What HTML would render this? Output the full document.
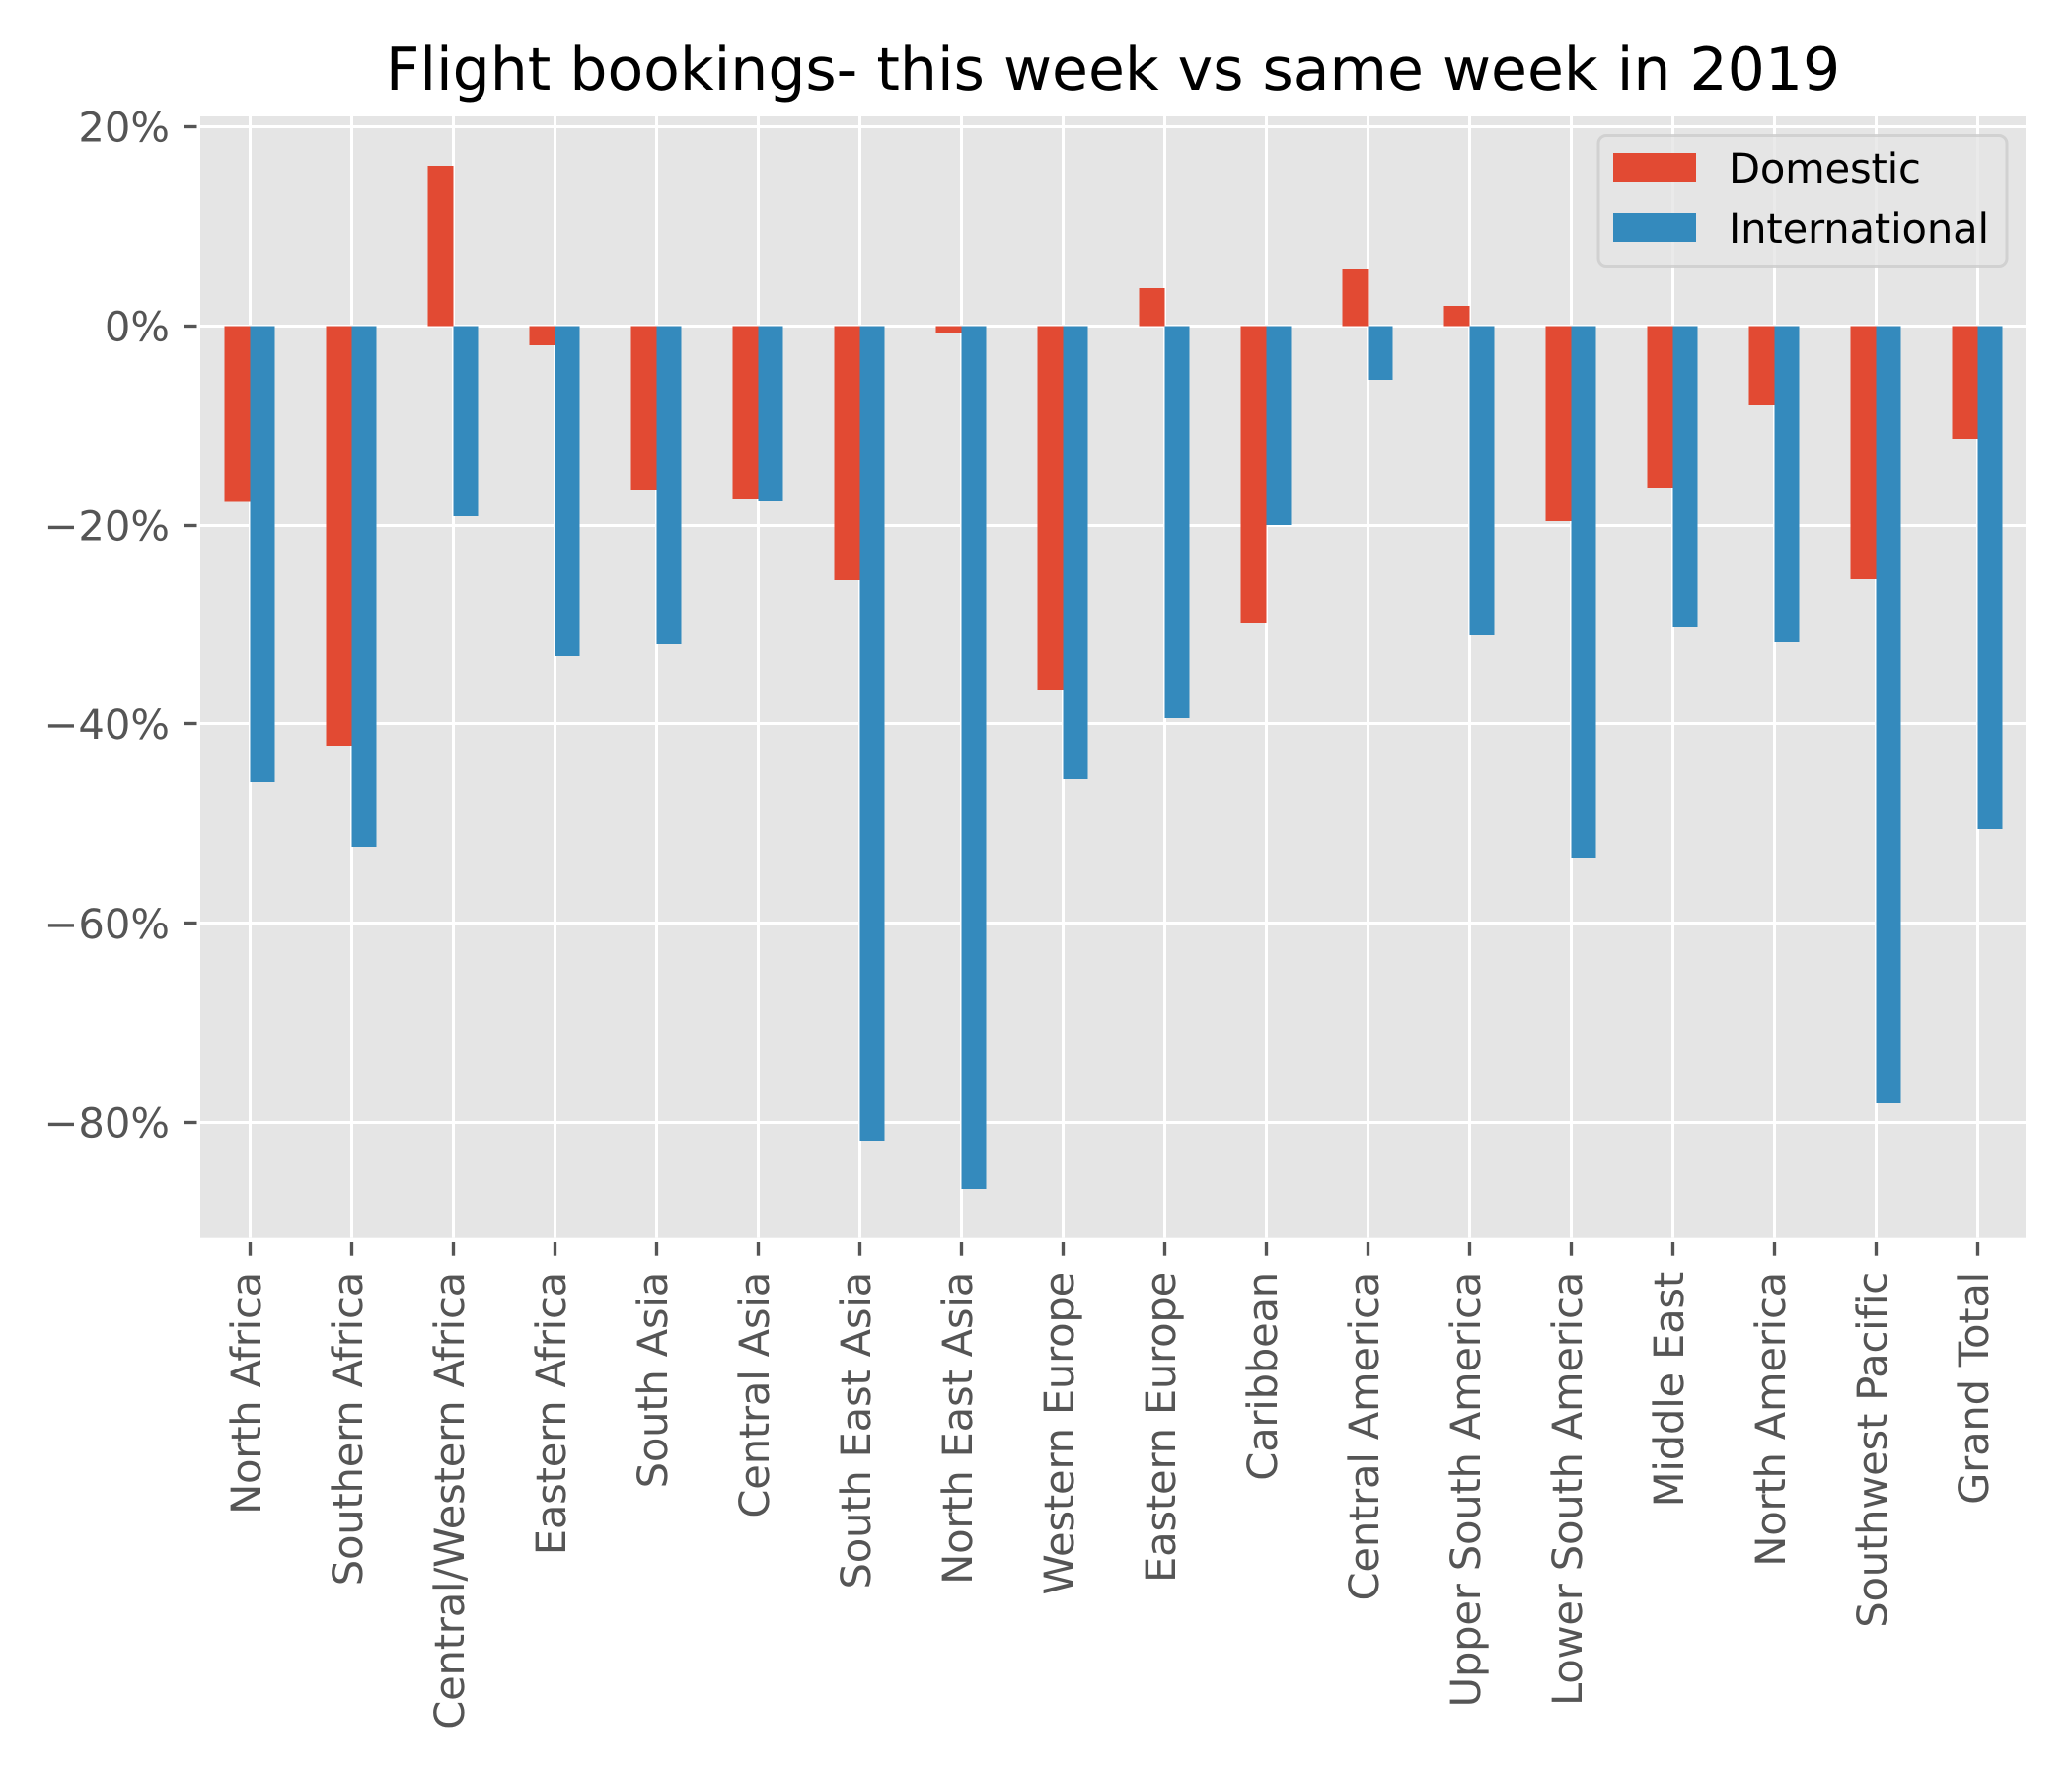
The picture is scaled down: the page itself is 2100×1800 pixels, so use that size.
<!DOCTYPE html>
<html lang="en">
<head>
<meta charset="utf-8">
<title>Flight bookings- this week vs same week in 2019</title>
<style>
  html, body { margin: 0; padding: 0; background: #ffffff; }
  svg { display: block; }
  text { font-family: "DejaVu Sans", "Liberation Sans", sans-serif; text-rendering: geometricPrecision; }
</style>
</head>
<body>
<svg id="chart" xmlns="http://www.w3.org/2000/svg" width="2100" height="1800" viewBox="0 0 2100 1800">
  <rect x="0" y="0" width="2100" height="1800" fill="#ffffff"/>
  <rect x="203" y="118" width="1850" height="1136.7" fill="#E5E5E5"/>
  <g id="grid" shape-rendering="crispEdges"></g>
  <g id="ticks"></g>
  <g id="bars" shape-rendering="crispEdges"></g>
  <g id="ylabels"></g>
  <g id="xlabels"></g>
  <text x="1128" y="91" font-size="60" fill="#000000" text-anchor="middle">Flight bookings- this week vs same week in 2019</text>
  <g>
    <rect x="1620" y="137.5" width="414" height="133" rx="8" ry="8" fill="#E5E5E5" fill-opacity="0.8" stroke="#CCCCCC" stroke-opacity="0.8" stroke-width="3"/>
    <g>
      <rect x="1635" y="155" width="84" height="29" fill="#E24A33"/>
      <text x="1752" y="185" font-size="41.67" letter-spacing="-0.2" fill="#000000">Domestic</text>
    </g>
    <g>
      <rect x="1635" y="216" width="84" height="29" fill="#348ABD"/>
      <text x="1752" y="246" font-size="41.67" letter-spacing="-0.15" fill="#000000">International</text>
    </g>
  </g>
</svg>
<script>
const categories = ["North Africa", "Southern Africa", "Central/Western Africa", "Eastern Africa", "South Asia", "Central Asia", "South East Asia", "North East Asia", "Western Europe", "Eastern Europe", "Caribbean", "Central America", "Upper South America", "Lower South America", "Middle East", "North America", "Southwest Pacific", "Grand Total"];
const domestic = [-17.67, -42.2, 16.09, -1.95, -16.54, -17.42, -25.53, -0.68, -36.54, 3.8, -29.81, 5.7, 2.0, -19.58, -16.33, -7.9, -25.46, -11.37];
const international = [-45.85, -52.3, -19.1, -33.17, -31.97, -17.6, -81.83, -86.69, -45.56, -39.4, -20.0, -5.42, -31.09, -53.49, -30.2, -31.79, -78.06, -50.52];
const yTicks = [20, 0, -20, -40, -60, -80];

const SVG_NS = "http://www.w3.org/2000/svg";
const plotTop = 118;
const plotBottom = 1254.7;
const plotLeft = 203;
const plotRight = 2053;
const barWidth = 25.75;

function xScale(i) { return 253.5 + 103 * i; }
function yScale(v) { return 330.3 - 10.09 * v; }
function snap(p) { return Math.floor(p) + 0.5; }
function tickText(v) { return (v < 0 ? "\u2212" + Math.abs(v) : String(v)) + "%"; }
function slug(s) { return s.toLowerCase().replace(/[^a-z0-9]+/g, "-"); }

function make(tag, attrs) {
  const el = document.createElementNS(SVG_NS, tag);
  for (const k in attrs) el.setAttribute(k, attrs[k]);
  return el;
}

const gridG = document.getElementById("grid");
const ticksG = document.getElementById("ticks");
const barsG = document.getElementById("bars");
const yLabelsG = document.getElementById("ylabels");
const xLabelsG = document.getElementById("xlabels");

yTicks.forEach(function (v) {
  const y = yScale(v);
  const line = make("line", { x1: plotLeft, x2: plotRight, y1: snap(y), y2: snap(y), stroke: "#ffffff", "stroke-width": 3 });
  
  
  gridG.appendChild(line);

  const tick = make("line", { x1: 186, x2: 199.5, y1: snap(y), y2: snap(y), stroke: "#555555", "stroke-width": 3.33 });
  
  
  ticksG.appendChild(tick);

  const label = make("text", { x: 172, y: y + 15.2, "font-size": 41.67, fill: "#555555", "text-anchor": "end" });
  label.textContent = tickText(v);
  
  
  yLabelsG.appendChild(label);
});

categories.forEach(function (name, i) {
  const x = xScale(i);
  const line = make("line", { x1: x, x2: x, y1: plotTop, y2: plotBottom, stroke: "#ffffff", "stroke-width": 3 });
  
  
  gridG.appendChild(line);

  const tick = make("line", { x1: x, x2: x, y1: 1259, y2: 1272.7, stroke: "#555555", "stroke-width": 3.33 });
  
  
  ticksG.appendChild(tick);

  const label = make("text", { transform: "translate(" + (x + 10.6) + ",1289) rotate(-90)", "font-size": 41.67, "letter-spacing": -0.22, fill: "#555555", "text-anchor": "end" });
  label.textContent = name;
  
  
  xLabelsG.appendChild(label);

  const y0 = yScale(0);
  const yD = yScale(domestic[i]);
  const barD = make("rect", { x: x - barWidth - 0.2, y: Math.min(y0, yD), width: barWidth + 0.2, height: Math.abs(yD - y0), fill: "#E24A33" });
  
  
  barsG.appendChild(barD);

  const yI = yScale(international[i]);
  const barI = make("rect", { x: x - 0.2, y: Math.min(y0, yI), width: barWidth - 0.8, height: Math.abs(yI - y0), fill: "#348ABD" });
  
  
  barsG.appendChild(barI);
});
</script>
</body>
</html>
